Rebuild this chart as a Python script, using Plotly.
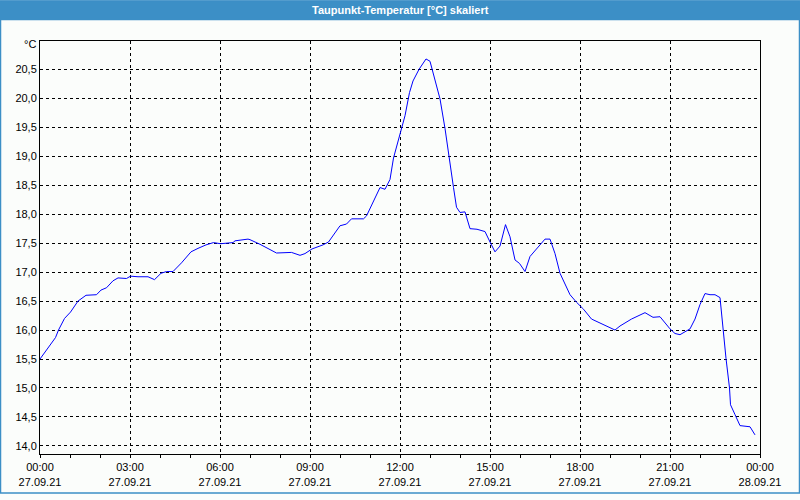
import pandas as pd
import plotly.graph_objects as go

# ---- data ----
times = ["00:00","00:16","00:31","00:37","00:49","01:01","01:16","01:32","01:53","02:02",
         "02:13","02:26","02:36","02:53","03:01","03:16","03:36","03:49","04:02","04:13",
         "04:26","04:43","05:02","05:16","05:32","05:47","06:01","06:26","06:30","06:56",
         "07:00","07:20","07:53","08:23","08:40","08:50","09:04","09:26","09:37","10:00",
         "10:13","10:23","10:47","10:53","11:07","11:20","11:30","11:40","11:47","11:53",
         "12:01","12:10","12:19","12:26","12:38","12:52","13:00","13:10","13:20","13:30",
         "13:38","13:47","13:53","14:00","14:10","14:20","14:34","14:50","15:00","15:10",
         "15:20","15:31","15:40","15:50","15:59","16:10","16:20","16:34","16:50","17:00",
         "17:10","17:20","17:40","17:53","18:07","18:23","18:40","19:00","19:10","19:20",
         "19:43","20:10","20:26","20:40","20:50","21:00","21:10","21:20","21:40","21:50",
         "22:00","22:10","22:20","22:30","22:40","22:46","22:52","22:59","23:01","23:10",
         "23:20","23:40","23:50"]
dewpoint = [15.50,15.70,15.87,16.00,16.20,16.31,16.50,16.60,16.61,16.69,
            16.73,16.85,16.90,16.89,16.93,16.92,16.92,16.87,16.98,17.01,
            17.01,17.16,17.35,17.41,17.47,17.51,17.49,17.51,17.54,17.57,
            17.56,17.48,17.33,17.34,17.29,17.32,17.40,17.47,17.52,17.80,
            17.83,17.92,17.92,17.97,18.23,18.46,18.43,18.60,18.97,19.16,
            19.39,19.70,20.10,20.30,20.50,20.68,20.64,20.33,19.99,19.48,
            18.97,18.46,18.12,18.03,18.04,17.75,17.74,17.70,17.52,17.35,
            17.45,17.82,17.61,17.21,17.15,17.01,17.27,17.41,17.57,17.57,
            17.32,16.98,16.61,16.48,16.36,16.19,16.12,16.05,16.00,16.07,
            16.19,16.30,16.22,16.23,16.13,16.02,15.94,15.92,16.02,16.19,
            16.44,16.63,16.61,16.61,16.56,16.02,15.51,15.00,14.71,14.54,
            14.35,14.33,14.19]
y_tickvals = [14.0,14.5,15.0,15.5,16.0,16.5,17.0,17.5,18.0,18.5,19.0,19.5,20.0,20.5]
y_ticktext = ["14,0","14,5","15,0","15,5","16,0","16,5","17,0","17,5","18,0","18,5",
              "19,0","19,5","20,0","20,5"]
title_text = "Taupunkt-Temperatur [°C] skaliert"
unit_text = "°C"
day = "2021-09-27"

x = pd.to_datetime([f"{day} {t}" for t in times])

BLUE = "#3c8fc6"
BG = "#fbfdfb"
FONT = "Liberation Sans"

fig = go.Figure()
fig.add_trace(go.Scatter(x=x, y=dewpoint, mode="lines",
                         line=dict(color="#0000ff", width=1), hoverinfo="skip"))

L, R, T, B = 40, 40, 41, 40
W, H = 800, 500
pw, ph = W - L - R, H - T - B

def px2paper(px, py):
    return (px - L) / pw, (H - B - py) / ph

x0, y0 = px2paper(0, 0)
x1, y1 = px2paper(800, 20)
fig.add_shape(type="rect", xref="paper", yref="paper", x0=x0, x1=x1, y0=y1, y1=y0,
              fillcolor=BLUE, line=dict(width=0), layer="above")
bx0, by0 = px2paper(0.5, 0.5)
bx1, by1 = px2paper(799.5, 499.5)
fig.add_shape(type="rect", xref="paper", yref="paper", x0=bx0, x1=bx1, y0=by1, y1=by0,
              fillcolor="rgba(0,0,0,0)", line=dict(color=BLUE, width=1.5), layer="above")

tx, ty = px2paper(400, 10)
fig.add_annotation(text=f"<b>{title_text}</b>", xref="paper", yref="paper", x=tx, y=ty,
                   showarrow=False, xanchor="center", yanchor="middle",
                   font=dict(family=FONT, size=11, color="white"))
ux, uy = px2paper(38, 44)
fig.add_annotation(text=unit_text, xref="paper", yref="paper", x=ux, y=uy,
                   showarrow=False, xanchor="right", yanchor="middle",
                   font=dict(family=FONT, size=11, color="black"))

fig.update_layout(
    width=W, height=H, autosize=False,
    margin=dict(l=L, r=R, t=T, b=B),
    paper_bgcolor=BG, plot_bgcolor=BG,
    showlegend=False,
    font=dict(family=FONT, size=11, color="black"),
)
fig.update_xaxes(
    type="date",
    range=[f"{day} 00:00", "2021-09-28 00:00"],
    dtick=3 * 3600 * 1000, tick0=f"{day} 00:00",
    tickformat="%H:%M<br>%d.%m.%y",
    ticks="outside", ticklen=3, tickcolor="black",
    minor=dict(dtick=3600 * 1000, ticks="outside", ticklen=3, tickcolor="black", showgrid=False),
    showgrid=True, gridcolor="black", griddash="3px,3px", gridwidth=1,
    showline=True, linecolor="black", linewidth=1, mirror=True,
    zeroline=False, fixedrange=True,
)
fig.update_yaxes(
    range=[13.86, 20.99],
    tickmode="array", tickvals=y_tickvals, ticktext=y_ticktext,
    ticks="", showgrid=True, gridcolor="black", griddash="3px,3px", gridwidth=1,
    showline=True, linecolor="black", linewidth=1, mirror=True,
    zeroline=False, fixedrange=True,
)

fig.write_html(
    "out.html",
    config={"displayModeBar": False, "staticPlot": True},
    post_script=(
        "document.documentElement.style.margin='0';"
        "document.documentElement.style.overflow='hidden';"
        "document.body.style.margin='0';"
        "document.body.style.overflow='hidden';"
        "document.querySelectorAll('.plotly-graph-div').forEach(function(e){"
        "e.style.lineHeight='0';e.style.fontSize='0';e.style.overflow='hidden';});"
        "document.querySelectorAll('.svg-container').forEach(function(e){"
        "e.style.display='block';e.style.verticalAlign='top';});"
    ),
)
